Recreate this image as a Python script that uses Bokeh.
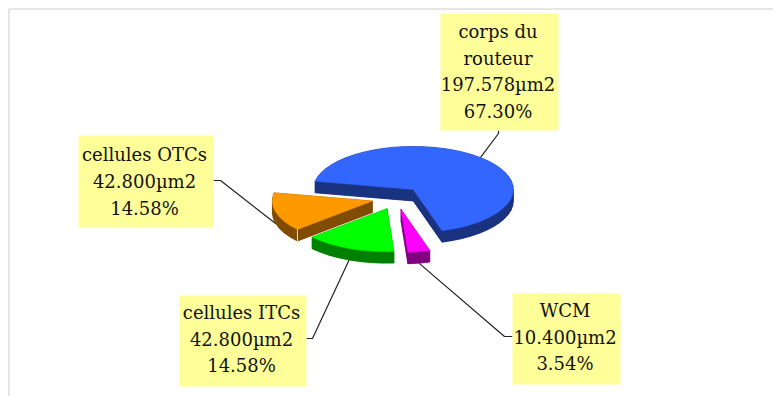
import math
from bokeh.plotting import figure
from bokeh.models import Range1d
from bokeh.core.properties import value
from bokeh.embed import file_html
from bokeh.resources import INLINE

# Data
names = [["corps du", "routeur"], ["WCM"], ["cellules ITCs"], ["cellules OTCs"]]
areas = [197.578, 10.400, 42.800, 42.800]
unit = "µm2"
top_colors = ["#3366FF", "#FF00FF", "#00FF00", "#FF9900"]
side_colors = ["#1A3380", "#800080", "#008000", "#804C00"]

# Layout of the 3D pie
CX, CY = 396.0, 197.5
RX, RY = 100.0, 43.0
DEPTH = 11.5
EXPLODE = 25.0
EXPLODE_TILT = 0.46
START_DEG = 169.0

# Label boxes: left, right, top, bottom, first-line y, line step, anchor x, anchor y, elbow x, elbow y
boxes = [
    (440, 558, 13, 130, 31, 26.6, 498, 130, 498, 133),
    (512, 620, 293, 384, 310, 26.6, 512, 336, 504, 336),
    (179, 306, 295, 386, 312, 26.6, 306, 338, 312, 338),
    (78, 213, 135, 227, 154, 26.8, 213, 180, 220, 180),
]
TEXT_SHIFT = -1.5

p = figure(width=773, height=396, x_range=Range1d(0, 773), y_range=Range1d(396, 0),
           x_axis_type=None, y_axis_type=None, toolbar_location=None,
           output_backend="svg", min_border=0, outline_line_color=None)
p.grid.visible = False

# page frame
p.line([8.5, 8.5, 773], [396, 8.5, 8.5], line_color="#CCCCCC", line_width=1)

total = sum(areas)
slices = []
a0 = START_DEG
for v in areas:
    sweep = 360.0 * v / total
    a1 = a0 - sweep
    mid = math.radians((a0 + a1) / 2)
    ax = CX + EXPLODE * math.cos(mid)
    ay = CY - EXPLODE * EXPLODE_TILT * math.sin(mid)
    n = max(3, int(sweep / 6))
    rim = []
    for i in range(n + 1):
        t = math.radians(a0 + (a1 - a0) * i / n)
        rim.append((ax + RX * math.cos(t), ay - RY * math.sin(t)))
    rx_mid = ax + RX * math.cos(mid)
    ry_mid = ay - RY * math.sin(mid)
    if math.sin(mid) < 0:
        ry_mid += DEPTH
    slices.append(dict(apex=(ax, ay), rim=rim, mid=(rx_mid, ry_mid)))
    a0 = a1

# leader lines
for s, b in zip(slices, boxes):
    mx, my = s["mid"]
    p.line([mx, b[8], b[6]], [my, b[9], b[7]], line_color="#222222", line_width=1.2)

# slices, back to front
for idx in [0, 3, 2, 1]:
    s = slices[idx]
    outline = [s["apex"]] + s["rim"]
    qx, qy = [], []
    m = len(outline)
    for i in range(m):
        x0, y0 = outline[i]
        x1, y1 = outline[(i + 1) % m]
        qx.append([x0, x1, x1, x0])
        qy.append([y0, y1, y1 + DEPTH, y0 + DEPTH])
    p.patches(qx, qy, fill_color=side_colors[idx], line_color=side_colors[idx], line_width=0.5)
    p.patch([q[0] for q in outline], [q[1] + DEPTH for q in outline],
            fill_color=side_colors[idx], line_color=side_colors[idx], line_width=0.5)
    p.patch([q[0] for q in outline], [q[1] for q in outline],
            fill_color=top_colors[idx], line_color=top_colors[idx], line_width=0.5)
    if idx == 3:
        cx0, cy0 = s["rim"][0]
        p.line([cx0, cx0], [cy0, cy0 + DEPTH], line_color="#E8E0D0", line_width=1)

# labels
for nm, v, b in zip(names, areas, boxes):
    l, r, t, bt, y0, step = b[:6]
    p.quad(left=[l], right=[r], top=[t], bottom=[bt], fill_color="#FFFF99", line_color=None)
    lines = nm + [f"{v:.3f}{unit}", f"{100 * v / total:.2f}%"]
    p.text([(l + r) / 2 + TEXT_SHIFT] * len(lines), [y0 + i * step for i in range(len(lines))], text=lines,
           text_font=value("DejaVu Serif"), text_font_size="18px", text_color="#111111",
           text_align="center", text_baseline="middle")

open("out.html", "w").write(file_html(p, INLINE))
